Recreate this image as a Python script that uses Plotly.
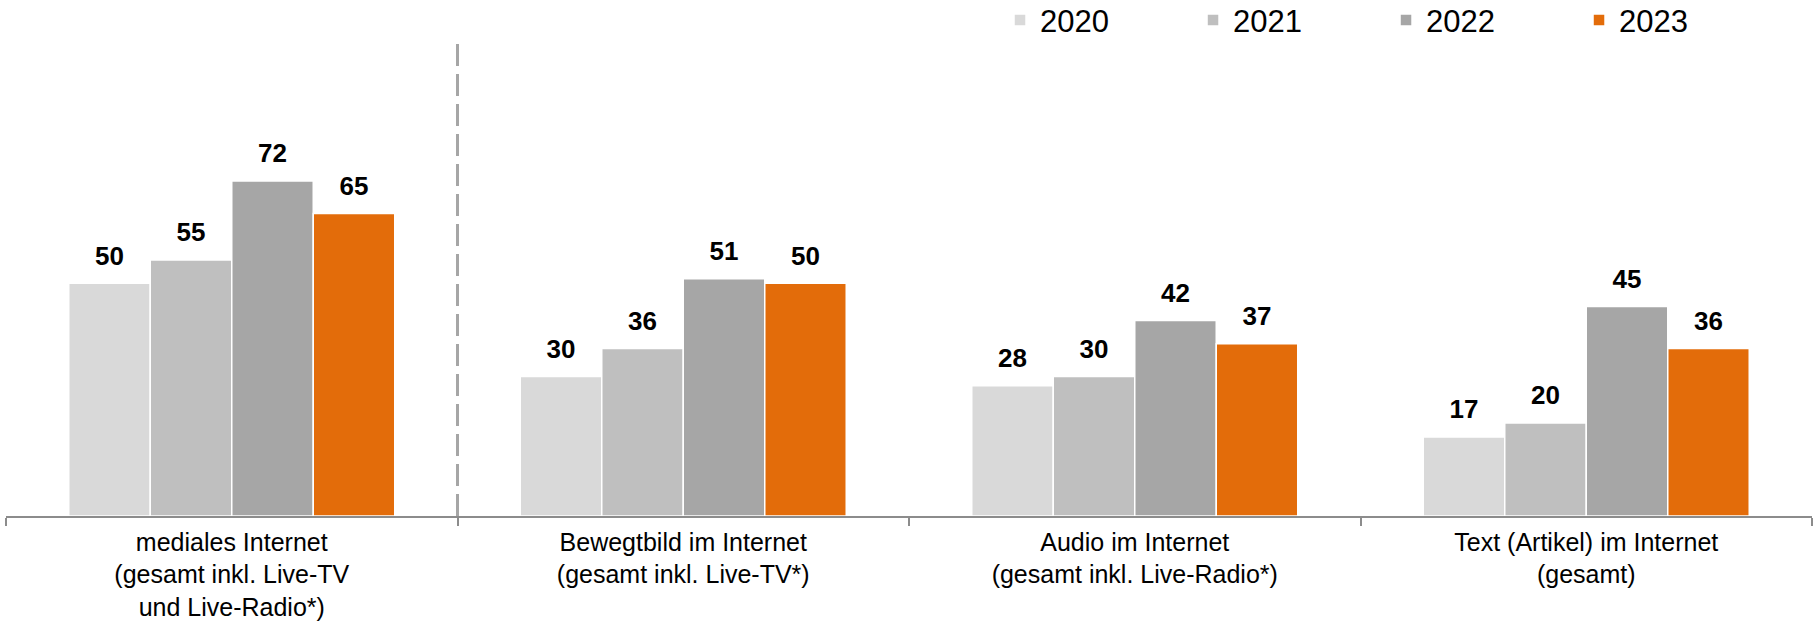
import plotly.graph_objects as go

categories = [
    "mediales Internet<br>(gesamt inkl. Live-TV<br>und Live-Radio*)",
    "Bewegtbild im Internet<br>(gesamt inkl. Live-TV*)",
    "Audio im Internet<br>(gesamt inkl. Live-Radio*)",
    "Text (Artikel) im Internet<br>(gesamt)",
]
years = ["2020", "2021", "2022", "2023"]
values_2020 = [50, 30, 28, 17]
values_2021 = [55, 36, 30, 20]
values_2022 = [72, 51, 42, 45]
values_2023 = [65, 50, 37, 36]
series = [values_2020, values_2021, values_2022, values_2023]
colors = ["#D9D9D9", "#BFBFBF", "#A6A6A6", "#E36C0A"]

FONT = "Liberation Sans, Arial, sans-serif"

fig = go.Figure()
for yr, vals, col in zip(years, series, colors):
    fig.add_trace(go.Bar(
        name=yr, x=categories, y=vals,
        marker=dict(color=col, line=dict(color="white", width=1.5)),
        hoverinfo="skip",
    ))
for yr, vals in zip(years, series):
    fig.add_trace(go.Scatter(
        x=categories, y=vals, mode="markers+text",
        text=[f"<b>{v}</b>" for v in vals],
        textposition="top center",
        textfont=dict(size=26, color="#000000", family=FONT),
        marker=dict(size=18, opacity=0),
        showlegend=False, hoverinfo="skip", cliponaxis=False,
    ))

fig.add_shape(type="line", xref="x", yref="paper", x0=0.5, x1=0.5, y0=0, y1=1,
              line=dict(color="#A6A6A6", width=3, dash="22px,8px"))

fig.update_layout(
    width=1816, height=624,
    margin=dict(l=6, r=4, t=39, b=108, autoexpand=False),
    paper_bgcolor="white", plot_bgcolor="white",
    barmode="group", bargap=0.278, bargroupgap=0,
    scattermode="group", scattergap=0.278,
    font=dict(family=FONT, color="#000000"),
    showlegend=True,
    legend=dict(
        orientation="h", x=0.5504, xanchor="left", y=1.039, yanchor="middle",
        font=dict(size=31, family=FONT, color="#000000"),
        entrywidth=148, entrywidthmode="pixels",
        bgcolor="rgba(0,0,0,0)", traceorder="normal",
    ),
    xaxis=dict(
        type="category", showline=True, linecolor="#8C8C8C", linewidth=1.5,
        ticks="outside", tickson="boundaries", ticklen=8, tickcolor="#8C8C8C", tickwidth=1.5,
        tickfont=dict(size=25, family=FONT, color="#000000"),
        ticklabelstandoff=3,
        showgrid=False, zeroline=False,
    ),
    yaxis=dict(range=[0, 102.5], visible=False, showgrid=False, zeroline=False),
)

fig.write_html(
    "out.html",
    config={"displayModeBar": False},
    post_script="document.body.style.margin='0';document.body.style.overflow='hidden';",
)
